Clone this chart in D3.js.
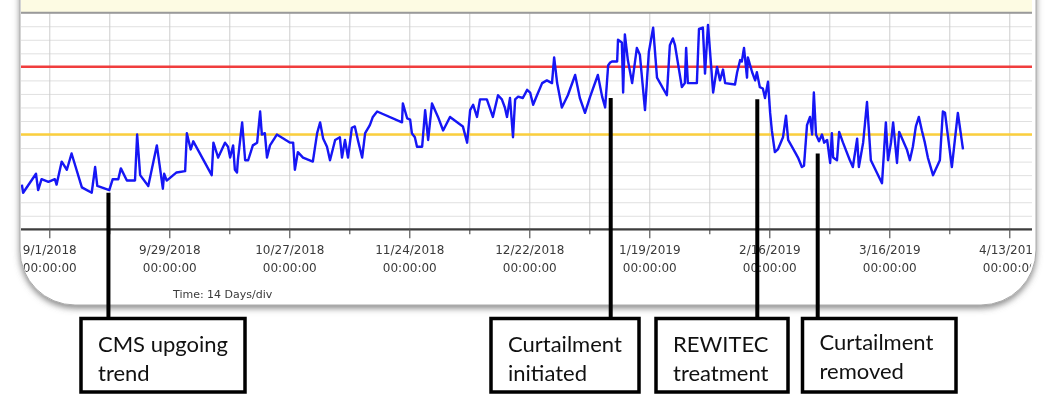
<!DOCTYPE html>
<html>
<head>
<meta charset="utf-8">
<script src="https://cdn.jsdelivr.net/npm/d3@7"></script>
<style>
  html, body { margin: 0; padding: 0; background: #fff; }
  svg { display: block; }
</style>
</head>
<body>
<svg id="chart" width="1048" height="396"></svg>
<script>
// ---- CMS trend: sample times (days after 1 Sep 2018) and levels ----
const dayOffsets = [
  -6.4,-6.1,-3.1,-2.6,-1.8,-0.2,1.3,1.7,2.9,4.1,5.2,7.6,9.9,10.7,11.2,14.0,14.8,16.1,16.7,18.1,
  20.0,20.5,21.2,23.1,25.1,26.5,26.8,27.4,29.7,31.7,32.1,33.0,33.6,37.9,38.3,39.1,
  39.4,41.0,41.7,42.2,42.9,43.3,43.8,44.0,45.0,45.7,46.4,47.5,48.5,49.2,49.6,50.3,50.8,51.5,53.1,
  56.2,56.9,57.3,58.0,59.2,61.5,62.5,63.2,63.9,64.8,65.5,66.7,67.8,68.3,69.0,69.7,70.6,71.3,72.0,
  73.0,73.7,74.8,75.5,76.5,82.3,82.5,83.5,84.2,
  84.6,85.3,85.8,87.0,87.7,88.4,89.3,90.0,90.7,91.9,93.5,96.5,97.5,98.2,98.9,99.8,100.5,102.1,
  103.5,104.7,105.6,106.3,106.8,107.5,108.2,108.7,109.4,110.5,111.5,112.2,112.9,113.8,115.0,116.1,
  117.3,117.8,118.5,119.6,121.0,122.7,123.8,125.0,126.2,128.0,129.0,129.7,130.4,130.8,
  131.3,132.5,132.7,133.6,133.9,134.3,135.0,136.0,137.1,137.8,139.0,139.9,140.9,141.8,144.1,144.8,
  145.5,146.0,147.6,148.3,148.6,149.0,151.1,151.6,152.5,153.0,153.7,154.9,155.8,156.5,157.2,157.7,
  160.0,160.5,161.2,161.6,162.1,162.8,163.0,164.0,164.7,165.1,165.8,166.5,167.0,167.7,168.2,
  168.6,169.3,170.0,171.2,171.9,172.4,174.0,174.7,175.6,176.1,176.8,177.5,178.0,178.4,178.9,179.6,
  180.3,180.8,181.5,182.2,182.6,182.9,183.8,184.3,185.2,186.8,187.5,188.5,188.9,189.9,190.8,191.7,
  194.3,195.2,195.7,196.4,196.9,197.8,198.3,200.1,200.8,201.5,202.2,202.9,203.6,204.3,205.0,206.2,
  207.8,208.5,209.0,210.6,212.0,213.2
];
const trendValues = [
  3.3,2.7,4.1,2.9,3.7,3.5,3.7,3.3,5.0,4.4,5.6,3.1,2.7,4.6,3.2,2.9,3.7,3.7,4.5,3.6,
  3.6,7.0,4.0,3.2,6.2,3.0,4.1,3.6,4.2,4.3,7.1,5.9,6.5,4.0,6.4,5.6,
  5.3,6.4,6.1,5.3,6.2,4.4,4.2,5.1,7.9,5.1,5.1,6.2,6.4,8.7,7.0,7.1,5.3,6.2,7.0,
  6.4,6.4,4.4,5.7,5.3,5.0,7.1,7.9,6.7,6.1,5.1,6.6,6.8,5.3,6.6,5.3,7.5,7.6,6.6,
  5.3,7.1,7.7,8.3,8.7,7.9,9.3,8.2,8.1,
  7.1,6.8,6.1,6.1,8.8,6.6,9.3,8.8,8.3,7.3,8.3,7.6,6.4,8.8,9.2,8.3,9.6,9.6,
  8.3,9.9,9.6,9.0,8.3,9.7,6.8,9.6,9.8,9.7,10.3,10.1,9.2,9.9,10.8,11.0,
  10.8,12.7,10.8,9.0,9.9,11.4,9.7,8.6,9.8,11.4,9.8,9.0,12.1,12.3,
  12.4,12.4,14.0,13.8,10.1,14.4,12.5,10.8,13.4,12.9,8.8,13.1,14.9,11.2,9.9,13.6,
  14.1,13.6,10.5,10.8,13.4,10.8,10.8,14.8,14.9,11.5,15.1,10.1,12.0,11.0,11.8,10.8,
  10.7,11.6,12.5,12.4,13.4,11.2,12.7,11.6,11.0,11.6,10.5,10.4,9.7,10.9,8.6,
  7.3,5.7,5.9,6.8,8.4,6.6,5.7,5.3,4.6,4.7,7.7,8.3,7.0,10.1,7.0,6.5,
  7.0,6.4,6.6,4.9,7.1,5.3,5.1,7.2,6.4,5.1,4.6,6.7,4.6,6.4,9.4,5.1,
  3.4,7.9,5.1,6.4,7.9,4.9,7.2,5.9,5.1,6.1,7.6,8.3,7.3,6.4,5.3,4.0,
  5.1,8.7,8.6,4.6,8.6,5.9
];
const alarmLevel = 12;
const warningLevel = 7;

// ---- time axis: a tick every 14 days, labelled every 28 days ----
const tickDayOffsets = d3.range(0, 225, 14);
const tickLabels = ["9/1/2018", "9/29/2018", "10/27/2018", "11/24/2018", "12/22/2018",
                    "1/19/2019", "2/16/2019", "3/16/2019", "4/13/2019"];
const tickTimeLabel = "00:00:00";
const timeScaleLabel = "Time: 14 Days/div";

// ---- event notes ----
const noteDayOffsets = [13.8, 131.0, 165.2, 179.3];
const noteValues = [2.7, 9.7, 9.6, 5.6];
const noteLines = [["CMS upgoing", "trend"], ["Curtailment", "initiated"],
                   ["REWITEC", "treatment"], ["Curtailment", "removed"]];

// ---- layout ----
const DAY = 86400000;
const origin = Date.UTC(2018, 8, 1);
const toDate = d => new Date(origin + d * DAY);
const plot = { left: 21, right: 1032, top: 12.7, bottom: 229.3 };
const panel = { left: 20, right: 1036, bottom: 305, r: 55 };
const noteBoxes = [
  { x0: 81, x1: 245 }, { x0: 491, x1: 639 }, { x0: 656, x1: 788 }, { x0: 802.5, x1: 956 }
];
const boxTop = 318.5, boxBottom = 392;

const svg = d3.select("#chart");
const defs = svg.append("defs");

const shadow = defs.append("filter").attr("id", "panelShadow")
  .attr("x", "-5%").attr("y", "-5%").attr("width", "110%").attr("height", "115%");
shadow.append("feDropShadow").attr("dx", 0).attr("dy", 3).attr("stdDeviation", 3)
  .attr("flood-color", "#666").attr("flood-opacity", 0.75);

// the trend window is a pasted screen capture, slightly soft
defs.append("filter").attr("id", "soft")
  .append("feGaussianBlur").attr("stdDeviation", 0.45);

function roundedPanel(l, r, b, rad) {
  return `M${l},-20 H${r} V${b - rad} A${rad},${rad} 0 0 1 ${r - rad},${b} H${l + rad} A${rad},${rad} 0 0 1 ${l},${b - rad} Z`;
}

defs.append("clipPath").attr("id", "panelClip")
  .append("path").attr("d", roundedPanel(plot.left, plot.right + 1, panel.bottom, panel.r));

// panel with its shadow
svg.append("path")
  .attr("d", roundedPanel(panel.left, panel.right, panel.bottom, panel.r))
  .attr("fill", "#fff").attr("stroke", "#aaa").attr("stroke-width", 1)
  .attr("filter", "url(#panelShadow)");

const g = svg.append("g").attr("clip-path", "url(#panelClip)")
  .append("g").attr("filter", "url(#soft)");

const x = d3.scaleUtc()
  .domain([toDate(-6.6), toDate(229.3)])
  .range([plot.left, plot.right]);
const y = d3.scaleLinear().domain([0, 16]).range([plot.bottom, plot.top]);

// header strip above the plot
g.append("rect").attr("x", plot.left).attr("y", -20)
  .attr("width", plot.right - plot.left).attr("height", plot.top + 20)
  .attr("fill", "#fdfbe3");

// horizontal grid
g.append("g")
  .attr("transform", `translate(${plot.left},0)`)
  .call(d3.axisRight(y).ticks(16).tickSize(plot.right - plot.left).tickFormat(""))
  .call(a => a.select(".domain").remove())
  .call(a => a.selectAll("line").attr("stroke", "#e0e0e0").attr("stroke-width", 1));

// vertical grid
const tickDates = tickDayOffsets.map(toDate);
g.append("g")
  .attr("transform", `translate(0,${plot.bottom})`)
  .call(d3.axisBottom(x).tickValues(tickDates).tickSize(-(plot.bottom - plot.top)).tickFormat(""))
  .call(a => a.select(".domain").remove())
  .call(a => a.selectAll("line").attr("stroke", "#cdcdcd").attr("stroke-width", 1));

// header border
g.append("line").attr("x1", plot.left).attr("x2", plot.right)
  .attr("y1", plot.top).attr("y2", plot.top)
  .attr("stroke", "#9a9a9a").attr("stroke-width", 2);

// alarm / warning levels
g.append("line").attr("x1", plot.left).attr("x2", plot.right)
  .attr("y1", y(alarmLevel)).attr("y2", y(alarmLevel))
  .attr("stroke", "#f03c3c").attr("stroke-width", 2.5);
g.append("line").attr("x1", plot.left).attr("x2", plot.right)
  .attr("y1", y(warningLevel)).attr("y2", y(warningLevel))
  .attr("stroke", "#fbcf3c").attr("stroke-width", 2.5);

// trend line
const series = dayOffsets.map((d, i) => ({ date: toDate(d), value: trendValues[i] }));
g.append("path").datum(series)
  .attr("fill", "none").attr("stroke", "#1414f5").attr("stroke-width", 2.4)
  .attr("stroke-linejoin", "round")
  .attr("d", d3.line().x(d => x(d.date)).y(d => y(d.value)));

// time axis: minor ticks, then labelled ticks
const minorDates = tickDates.filter((d, i) => i % 2 === 1);
const majorDates = tickDates.filter((d, i) => i % 2 === 0);
g.append("g").attr("transform", `translate(0,${plot.bottom})`)
  .call(d3.axisBottom(x).tickValues(minorDates).tickSize(5).tickFormat(""))
  .call(a => a.select(".domain").remove())
  .call(a => a.selectAll("line").attr("stroke", "#555").attr("stroke-width", 1.2));

const xAxis = g.append("g").attr("transform", `translate(0,${plot.bottom})`)
  .call(d3.axisBottom(x).tickValues(majorDates).tickSize(9).tickFormat((d, i) => tickLabels[i]));
xAxis.select(".domain").attr("stroke", "#3e3e3e").attr("stroke-width", 2.2)
  .attr("d", `M${plot.left},0H${plot.right}`);
xAxis.selectAll("line").attr("stroke", "#555").attr("stroke-width", 1.2);
xAxis.selectAll("text").each(function () {
  const t = d3.select(this);
  const label = t.text();
  t.text(null).attr("y", 0).attr("dy", null)
    .attr("font-family", "DejaVu Sans, Verdana, sans-serif").attr("font-size", 12)
    .attr("fill", "#3a3a3a");
  t.append("tspan").attr("x", 0).attr("y", 24.5).text(label);
  t.append("tspan").attr("x", 0).attr("y", 42.5).text(tickTimeLabel);
});

g.append("text").attr("x", 173).attr("y", 298)
  .attr("font-family", "DejaVu Sans, Verdana, sans-serif").attr("font-size", 11)
  .attr("fill", "#3a3a3a").text(timeScaleLabel);

// event notes: leader lines and boxed captions
const notes = svg.append("g");
noteDayOffsets.forEach((d, i) => {
  const nx = x(toDate(d));
  notes.append("line").attr("x1", nx).attr("x2", nx)
    .attr("y1", y(noteValues[i])).attr("y2", boxTop)
    .attr("stroke", "#000").attr("stroke-width", 4);
});
noteBoxes.forEach((b, i) => {
  notes.append("rect").attr("x", b.x0).attr("y", boxTop)
    .attr("width", b.x1 - b.x0).attr("height", boxBottom - boxTop)
    .attr("fill", "#fff").attr("stroke", "#000").attr("stroke-width", 3.5);
  const lift = i === 3 ? -2 : 0;
  noteLines[i].forEach((line, j) => {
    notes.append("text").attr("x", b.x0 + 17).attr("y", 352 + lift + j * 28.5)
      .attr("font-family", "Lato, 'Open Sans', sans-serif").attr("font-size", 22)
      .attr("fill", "#111").text(line);
  });
});
</script>
</body>
</html>
